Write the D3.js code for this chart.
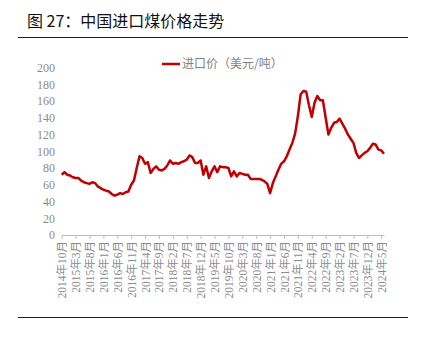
<!DOCTYPE html>
<html>
<head>
<meta charset="utf-8">
<script src="https://cdn.jsdelivr.net/npm/d3@7/dist/d3.min.js"></script>
<style>
  html, body { margin: 0; padding: 0; background: #fff; }
  svg { display: block; }
</style>
</head>
<body>
<div id="chart"></div>
<script>
// ---- data ----
const startYear = 2014, startMonth = 10, monthCount = 117; // 2014-10 .. 2024-06
const categories = d3.range(monthCount).map(i => {
  const m = startMonth - 1 + i;
  return (startYear + Math.floor(m / 12)) + "年" + (m % 12 + 1) + "月";
});
const importPrice = [
  72, 75, 72, 71, 69, 68, 68, 65, 63, 62,
  61, 63, 62, 58, 56, 54, 53, 52, 49, 47,
  48, 50, 49, 51, 52, 60, 65, 80, 94, 92,
  85, 87, 74, 79, 82, 78, 77, 79, 83, 89,
  85, 86, 85, 87, 88, 90, 95, 93, 86, 86,
  89, 72, 82, 68, 76, 82, 75, 82, 81, 81,
  80, 70, 76, 70, 74, 73, 72, 72, 67, 67,
  67, 67, 66, 64, 61, 50, 62, 70, 78, 85,
  88, 94, 102, 110, 121, 142, 168, 172, 171, 155,
  141, 158, 166, 161, 161, 140, 120, 128, 134, 135,
  139, 133, 127, 120, 115, 110, 98, 92, 95, 98,
  100, 104, 109, 108, 102, 101, 97
];
const xTickLabels = [
  "2014年10月", "2015年3月", "2015年8月", "2016年1月", "2016年6月", "2016年11月",
  "2017年4月", "2017年9月", "2018年2月", "2018年7月", "2018年12月", "2019年5月",
  "2019年10月", "2020年3月", "2020年8月", "2021年1月", "2021年6月", "2021年11月",
  "2022年4月", "2022年9月", "2023年2月", "2023年7月", "2023年12月", "2024年5月"
];
const yTicks = [0, 20, 40, 60, 80, 100, 120, 140, 160, 180, 200];
const seriesName = "进口价（美元/吨）";
const titleText = "图 27：中国进口煤价格走势";

// ---- layout ----
const W = 421, H = 345;
const serif = "'Liberation Serif', 'Times New Roman', 'DejaVu Serif', serif";
const svg = d3.select("#chart").append("svg").attr("width", W).attr("height", H);

// title
svg.append("text")
  .attr("x", 27).attr("y", 27)
  .attr("font-family", "'Noto Sans CJK SC', sans-serif")
  .attr("font-size", 16).attr("fill", "#111")
  .text(titleText);
svg.append("line").attr("x1", 18).attr("x2", 408).attr("y1", 37.5).attr("y2", 37.5)
  .attr("stroke", "#222").attr("stroke-width", 1);
svg.append("line").attr("x1", 18).attr("x2", 408).attr("y1", 317.5).attr("y2", 317.5)
  .attr("stroke", "#222").attr("stroke-width", 1);

const x = d3.scalePoint().domain(categories).range([61.7, 384]);
const y = d3.scaleLinear().domain([0, 200]).range([235, 67.5]);

// y axis
const yAxis = svg.append("g").attr("transform", "translate(57,0)")
  .call(d3.axisLeft(y).tickValues(yTicks).tickSize(0).tickPadding(2));
yAxis.select(".domain").remove();
yAxis.selectAll("text")
  .style("font-family", serif)
  .attr("font-size", 12).attr("fill", "#8c8c8c");

// x axis
const xAxis = svg.append("g").attr("transform", "translate(0,235)")
  .call(d3.axisBottom(x).tickValues(xTickLabels).tickSize(4).tickSizeOuter(0));
xAxis.select(".domain").attr("stroke", "#bfbfbf").attr("stroke-width", 1);
xAxis.selectAll(".tick line").attr("stroke", "#bfbfbf");
xAxis.selectAll("text")
  .style("font-family", serif + ", 'Noto Sans CJK SC'")
  .attr("font-size", 11.5).attr("fill", "#8c8c8c")
  .attr("transform", "rotate(-90)")
  .attr("text-anchor", "end")
  .attr("x", -6).attr("y", 0).attr("dy", "0.35em");

// line
const line = d3.line()
  .x((d, i) => x(categories[i]))
  .y(d => y(d));
svg.append("path").datum(importPrice)
  .attr("d", line)
  .attr("fill", "none")
  .attr("stroke", "#c00000")
  .attr("stroke-width", 2.5)
  .attr("stroke-linejoin", "round");

// legend
const lg = svg.append("g").attr("transform", "translate(162,64)");
lg.append("line").attr("x1", 0).attr("x2", 18).attr("y1", 0).attr("y2", 0)
  .attr("stroke", "#c00000").attr("stroke-width", 2.5);
lg.append("text").attr("x", 20).attr("y", 0).attr("dy", "0.35em")
  .attr("font-family", "'Noto Sans CJK SC', sans-serif")
  .attr("font-size", 12).attr("fill", "#7f7f7f")
  .text(seriesName);
</script>
</body>
</html>
